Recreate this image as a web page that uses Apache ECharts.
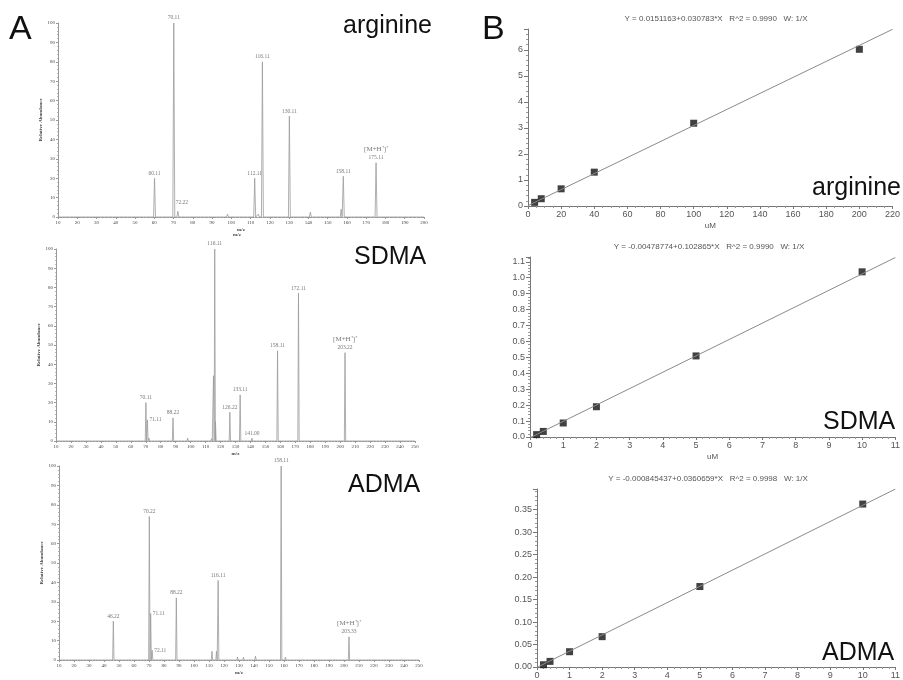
<!DOCTYPE html>
<html><head><meta charset="utf-8">
<script src="https://cdn.jsdelivr.net/npm/echarts@6/dist/echarts.min.js"></script>
<style>html,body{margin:0;padding:0;background:#fff}#c{width:903px;height:680px}</style>
</head><body><div id="c"></div>
<script>
// ---------- Spectra (panel A) ----------
const mzTicks = [10, 200, 250]; // min, arginine max, SDMA/ADMA max
const argPeaks = [[60.11,20],[70.11,100],[72.22,3],[88,0.8],[98,1.5],[112.11,20],[114,1.5],[116.11,80],[120,0.4],[130.11,52],[133,0.5],[141,2.5],[157,4],[158.11,21],[175.11,28]];
const argLabels = [[60.11,20,'60.11','t'],[70.11,100,'70.11','t'],[72.22,3,'72.22','tr'],[112.11,20,'112.11','t'],[116.11,80,'116.11','t'],[130.11,52,'130.11','t'],[158.11,21,'158.11','t'],[175.11,28,'175.11','p']];
const sdmaPeaks = [[70.11,20],[71.11,11],[72.2,1.5],[88.22,12],[98,1.5],[112,0.6],[114,1.2],[115.3,34],[116.11,100],[116.6,10],[126.22,15],[128,1],[133.11,24],[141.0,1.5],[158.11,47],[172.11,77],[186,0.6],[203.22,46]];
const sdmaLabels = [[70.11,20,'70.11','t'],[71.11,11,'71.11','r'],[88.22,12,'88.22','t'],[116.11,100,'116.11','t'],[126.22,15,'126.22','t'],[133.11,24,'133.11','t'],[141.0,1.5,'141.00','t'],[158.11,47,'158.11','t'],[172.11,77,'172.11','t'],[203.22,46,'203.22','p']];
const admaPeaks = [[46.22,20],[56,0.5],[60,0.5],[70.22,74],[71.11,24],[72.11,5],[85,0.5],[88.22,32],[97,1],[101,0.8],[106,0.6],[110,0.8],[112,4.5],[115,4.5],[116.11,41],[125,1],[129,1.5],[133,1.5],[141,2],[145,0.8],[150,0.6],[155,0.8],[158.11,100],[161,1.5],[171,1],[174,0.8],[186,1],[188,0.6],[203.33,12]];
const admaLabels = [[46.22,20,'46.22','t'],[70.22,74,'70.22','t'],[71.11,24,'71.11','r'],[72.11,5,'72.11','r'],[88.22,32,'88.22','t'],[116.11,41,'116.11','t'],[158.11,100,'158.11','t'],[203.33,12,'203.33','p']];
const abundanceTicks = [0, 100, 10];

// ---------- Calibration (panel B) ----------
const argConc = [4, 8, 20, 40, 100, 200];
const argRatio = [0.14, 0.28, 0.66, 1.30, 3.18, 6.02];
const argFit = [0.0151163, 0.030783];
const sdmaConc = [0.2, 0.4, 1, 2, 5, 10];
const sdmaRatio = [0.015, 0.035, 0.088, 0.19, 0.509, 1.037];
const sdmaFit = [-0.00478774, 0.102865];
const admaConc = [0.2, 0.4, 1, 2, 5, 10];
const admaRatio = [0.005, 0.0125, 0.034, 0.0675, 0.179, 0.3625];
const admaFit = [-0.000845437, 0.0360659];
const argTitle = 'Y = 0.0151163+0.030783*X   R^2 = 0.9990   W: 1/X';
const sdmaTitle = 'Y = -0.00478774+0.102865*X   R^2 = 0.9990   W: 1/X';
const admaTitle = 'Y = -0.000845437+0.0360659*X   R^2 = 0.9998   W: 1/X';

const serif = 'Liberation Serif, serif';
const sans = 'Liberation Sans, Arial, sans-serif';

function spikes(peaks, lo, hi, w) {
  const d = [[lo, 0]];
  peaks.slice().sort((a,b)=>a[0]-b[0]).forEach(([m,h]) => { d.push([m-w,0],[m,h],[m+w,0]); });
  d.push([hi, 0]);
  return d;
}
function labelData(labels) {
  return labels.map(([m,h,t,p]) => {
    const item = { value: [m, h] };
    if (p === 'r') item.label = { position: 'right', distance: 1, formatter: t };
    else if (p === 'tr') item.label = { position: 'top', offset: [4, 0], formatter: t };
    else if (p === 'p') item.label = { position: 'top', distance: 1, formatter: '{p|[M+H⁺]⁺}\n{v|' + t + '}' };
    else item.label = { position: 'top', distance: 1, formatter: t };
    return item;
  });
}
function specX(gi, max) {
  return { type:'value', gridIndex:gi, min:mzTicks[0], max:max, interval:10,
    axisLine:{lineStyle:{color:'#999', width:1}},
    axisTick:{length:2, lineStyle:{color:'#999'}},
    minorTick:{show:true, splitNumber:5, length:1, lineStyle:{color:'#bbb'}},
    axisLabel:{fontSize:5, fontFamily:serif, color:'#444', margin:3},
    splitLine:{show:false},
    name:'m/z', nameLocation:'middle', nameGap:10,
    nameTextStyle:{fontSize:5, fontFamily:serif, fontWeight:'bold', color:'#444'} };
}
function specY(gi) {
  return { type:'value', gridIndex:gi, min:abundanceTicks[0], max:abundanceTicks[1], interval:abundanceTicks[2],
    axisLine:{show:true, lineStyle:{color:'#999', width:1}},
    axisTick:{show:true, length:2, lineStyle:{color:'#999'}},
    minorTick:{show:true, splitNumber:5, length:1, lineStyle:{color:'#bbb'}},
    axisLabel:{fontSize:5, fontFamily:serif, color:'#444', margin:3},
    splitLine:{show:false},
    name:'Relative Abundance', nameLocation:'middle', nameGap:12,
    nameTextStyle:{fontSize:5, fontFamily:serif, fontWeight:'bold', color:'#444'} };
}
function calX(gi, max, interval, minorSplit, showName) {
  return { type:'value', gridIndex:gi, min:0, max:max, interval:interval,
    axisLine:{onZero:false, lineStyle:{color:'#777'}},
    axisTick:{length:3, lineStyle:{color:'#777'}},
    minorTick:{show:true, splitNumber:minorSplit, length:2, lineStyle:{color:'#999'}},
    axisLabel:{fontSize:9, color:'#555', fontFamily:sans, margin:4},
    splitLine:{show:false},
    name: showName ? 'uM' : '', nameLocation:'middle', nameGap:16,
    nameTextStyle:{fontSize:8, color:'#555', fontFamily:sans} };
}
function calY(gi, max, interval, dec, minorSplit) {
  return { type:'value', gridIndex:gi, min:0, max:max, interval:interval,
    axisLine:{show:true, onZero:false, lineStyle:{color:'#777'}},
    axisTick:{show:true, length:4, lineStyle:{color:'#777'}},
    minorTick:{show:true, splitNumber:minorSplit, length:2, lineStyle:{color:'#999'}},
    axisLabel:{fontSize:9, color:'#555', fontFamily:sans, margin:5, showMaxLabel:false,
      formatter: v => v.toFixed(dec)},
    splitLine:{show:false} };
}
function specSeries(gi, peaks, labels, max, w) {
  return [
    { type:'line', xAxisIndex:gi, yAxisIndex:gi, data:spikes(peaks, mzTicks[0], max, w),
      showSymbol:false, lineStyle:{color:'#9a9a9a', width:0.8}, animation:false, silent:true },
    { type:'scatter', xAxisIndex:gi, yAxisIndex:gi, data:labelData(labels), symbolSize:2,
      itemStyle:{color:'rgba(0,0,0,0)'}, animation:false, silent:true,
      label:{show:true, fontSize:5.5, fontFamily:serif, color:'#555',
        rich:{ p:{fontSize:7, fontFamily:serif, color:'#555', lineHeight:9}, v:{fontSize:5.5, fontFamily:serif, color:'#555', lineHeight:7} } } }
  ];
}
function calSeries(gi, conc, ratio, fit, xmax) {
  return [
    { type:'line', xAxisIndex:gi, yAxisIndex:gi,
      data:[[0, fit[0]], [xmax, fit[0] + fit[1]*xmax]],
      showSymbol:false, lineStyle:{color:'#8a8a8a', width:1}, animation:false, silent:true },
    { type:'scatter', xAxisIndex:gi, yAxisIndex:gi, data:conc.map((c,i)=>[c, ratio[i]]),
      symbol:'rect', symbolSize:7, itemStyle:{color:'#111'}, animation:false, silent:true, clip:false }
  ];
}

const chart = echarts.init(document.getElementById('c'), null, {renderer:'canvas'});
const bigText = (t, x, y, size) => ({ type:'text', x:x, y:y,
  style:{ text:t, fontSize:size, fontFamily:sans, fill:'#111', textVerticalAlign:'middle', textAlign:'left' } });
const smallText = (t, x, y) => ({ type:'text', x:x, y:y,
  style:{ text:t, fontSize:8, fontFamily:sans, fill:'#555', textVerticalAlign:'middle', textAlign:'center' } });

chart.setOption({
  backgroundColor:'#fff',
  animation:false,
  grid:[
    {left:58, top:23, width:366, height:194},
    {left:56, top:249, width:359, height:192},
    {left:59, top:466, width:360, height:194},
    {left:528, top:29, width:371, height:177},
    {left:530, top:257, width:370, height:180},
    {left:537, top:489, width:364, height:180}
  ],
  xAxis:[
    specX(0, mzTicks[1]), specX(1, mzTicks[2]), specX(2, mzTicks[2]),
    calX(3, 220, 20, 4, true), calX(4, 11, 1, 5, true), calX(5, 11, 1, 5, false)
  ],
  yAxis:[
    specY(0), specY(1), specY(2),
    calY(3, 6.8, 1, 0, 5), calY(4, 1.13, 0.1, 1, 5), calY(5, 0.396, 0.05, 2, 5)
  ],
  series:[
    ...specSeries(0, argPeaks, argLabels, mzTicks[1], 0.5),
    ...specSeries(1, sdmaPeaks, sdmaLabels, mzTicks[2], 0.45),
    ...specSeries(2, admaPeaks, admaLabels, mzTicks[2], 0.45),
    ...calSeries(3, argConc, argRatio, argFit, 220),
    ...calSeries(4, sdmaConc, sdmaRatio, sdmaFit, 11),
    ...calSeries(5, admaConc, admaRatio, admaFit, 11)
  ],
  graphic:[
    bigText('A', 9, 30, 34),
    bigText('B', 482, 30, 34),
    bigText('arginine', 343, 26, 25),
    bigText('SDMA', 354, 257, 25),
    bigText('ADMA', 348, 485, 25),
    bigText('arginine', 812, 188.5, 25),
    bigText('SDMA', 823, 422, 25),
    bigText('ADMA', 822, 653, 25),
    smallText(argTitle, 716, 19),
    smallText(sdmaTitle, 709, 247),
    smallText(admaTitle, 708, 479),
    { type:'text', x:237, y:235, style:{ text:'m/z', fontSize:5, fontFamily:serif, fontWeight:'bold', fill:'#444', textAlign:'center', textVerticalAlign:'middle' } }
  ]
});
</script></body></html>
